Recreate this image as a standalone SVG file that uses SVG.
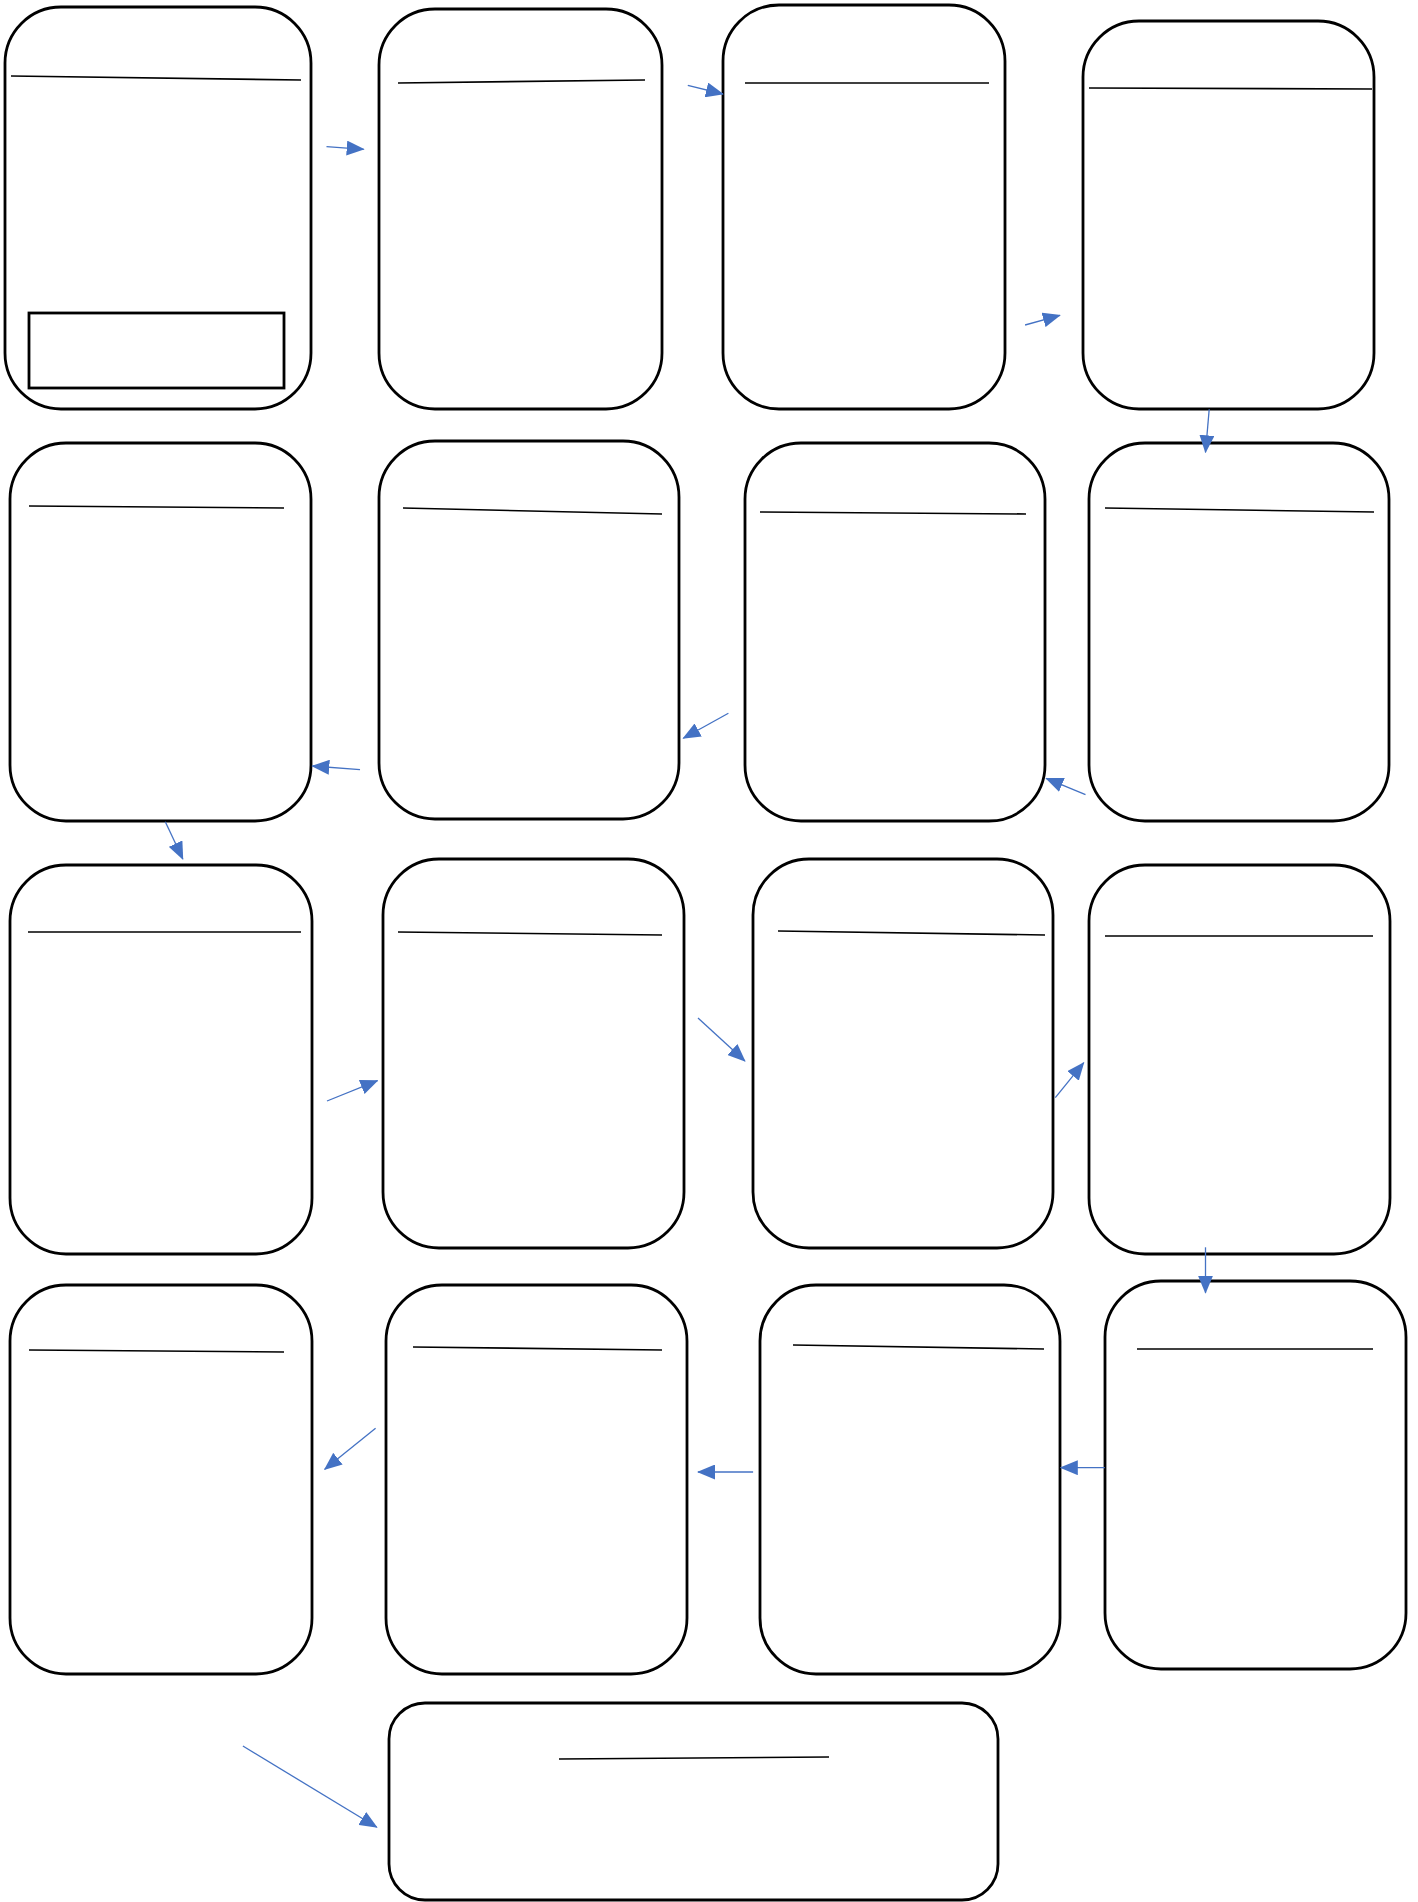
<svg xmlns="http://www.w3.org/2000/svg" width="1418" height="1902" viewBox="0 0 1418 1902">
<style>
.n{fill:#fff;stroke:#000;stroke-width:2.8}
.d{stroke:#000;stroke-width:1.6;fill:none}
.c{stroke:#4472C4;stroke-width:1.3;fill:none;marker-end:url(#ah)}
</style>
<defs>
<marker id="ah" markerUnits="userSpaceOnUse" markerWidth="18" markerHeight="15" viewBox="0 0 18 15" refX="17" refY="7.5" orient="auto">
<path d="M0,0 L18,7.5 L0,15 z" fill="#4472C4"/>
</marker>
</defs>
<rect width="1418" height="1902" fill="#fff"/>
<g id="node1"><rect class="n" x="5" y="7" width="306" height="402" rx="56"/><line class="d" x1="11" y1="76" x2="301" y2="80"/><rect class="n" x="29" y="313" width="255" height="75" rx="0"/></g>
<g id="node2"><rect class="n" x="379" y="9" width="283" height="400" rx="56"/><line class="d" x1="398" y1="83" x2="645" y2="80"/></g>
<g id="node3"><rect class="n" x="723" y="5" width="282" height="404" rx="56"/><line class="d" x1="745" y1="83" x2="989" y2="83"/></g>
<g id="node4"><rect class="n" x="1083" y="21" width="291" height="388" rx="56"/><line class="d" x1="1089" y1="88" x2="1372" y2="89"/></g>
<g id="node5"><rect class="n" x="10" y="443" width="301" height="378" rx="56"/><line class="d" x1="29" y1="506" x2="284" y2="508"/></g>
<g id="node6"><rect class="n" x="379" y="441" width="300" height="378" rx="56"/><line class="d" x1="403" y1="508" x2="662" y2="514"/></g>
<g id="node7"><rect class="n" x="745" y="443" width="300" height="378" rx="56"/><line class="d" x1="760" y1="512" x2="1026" y2="514"/></g>
<g id="node8"><rect class="n" x="1089" y="443" width="300" height="378" rx="56"/><line class="d" x1="1105" y1="508" x2="1374" y2="512"/></g>
<g id="node9"><rect class="n" x="10" y="865" width="302" height="389" rx="56"/><line class="d" x1="28" y1="932" x2="301" y2="932"/></g>
<g id="node10"><rect class="n" x="383" y="859" width="301" height="389" rx="56"/><line class="d" x1="398" y1="932" x2="662" y2="935"/></g>
<g id="node11"><rect class="n" x="753" y="859" width="300" height="389" rx="56"/><line class="d" x1="778" y1="931" x2="1045" y2="935"/></g>
<g id="node12"><rect class="n" x="1089" y="865" width="301" height="389" rx="56"/><line class="d" x1="1105" y1="936" x2="1373" y2="936"/></g>
<g id="node13"><rect class="n" x="10" y="1285" width="302" height="389" rx="56"/><line class="d" x1="29" y1="1350" x2="284" y2="1352"/></g>
<g id="node14"><rect class="n" x="386" y="1285" width="301" height="389" rx="56"/><line class="d" x1="413" y1="1347" x2="662" y2="1350"/></g>
<g id="node15"><rect class="n" x="760" y="1285" width="300" height="389" rx="56"/><line class="d" x1="793" y1="1345" x2="1044" y2="1349"/></g>
<g id="node16"><rect class="n" x="1105" y="1281" width="301" height="388" rx="56"/><line class="d" x1="1137" y1="1349" x2="1373" y2="1349"/></g>
<g id="node17"><rect class="n" x="389" y="1703" width="609" height="197" rx="36"/><line class="d" x1="559" y1="1759" x2="829" y2="1757"/></g>
<g id="connectors">
<line class="c" x1="326.5" y1="146.7" x2="363.7" y2="149.3"/>
<line class="c" x1="687.8" y1="85.3" x2="722.9" y2="94"/>
<line class="c" x1="1025.1" y1="325" x2="1059.9" y2="315.3"/>
<line class="c" x1="1209.2" y1="409.3" x2="1205.5" y2="452.3"/>
<line class="c" x1="1085.5" y1="794.7" x2="1046.2" y2="778.3"/>
<line class="c" x1="728.4" y1="713.3" x2="683.3" y2="738.3"/>
<line class="c" x1="360" y1="769.7" x2="312.3" y2="766"/>
<line class="c" x1="165.3" y1="821.7" x2="182.8" y2="859"/>
<line class="c" x1="327" y1="1101" x2="377.5" y2="1080.7"/>
<line class="c" x1="698" y1="1018" x2="744.9" y2="1061"/>
<line class="c" x1="1055.3" y1="1097.7" x2="1083.7" y2="1062.7"/>
<line class="c" x1="1205.5" y1="1247.3" x2="1205.5" y2="1292.7"/>
<line class="c" x1="1104.8" y1="1467.7" x2="1060.8" y2="1467.7"/>
<line class="c" x1="753.1" y1="1472" x2="698" y2="1472"/>
<line class="c" x1="375.6" y1="1428.3" x2="324.7" y2="1469.3"/>
<line class="c" x1="242.9" y1="1746" x2="376.8" y2="1827.3"/>
</g>
</svg>
